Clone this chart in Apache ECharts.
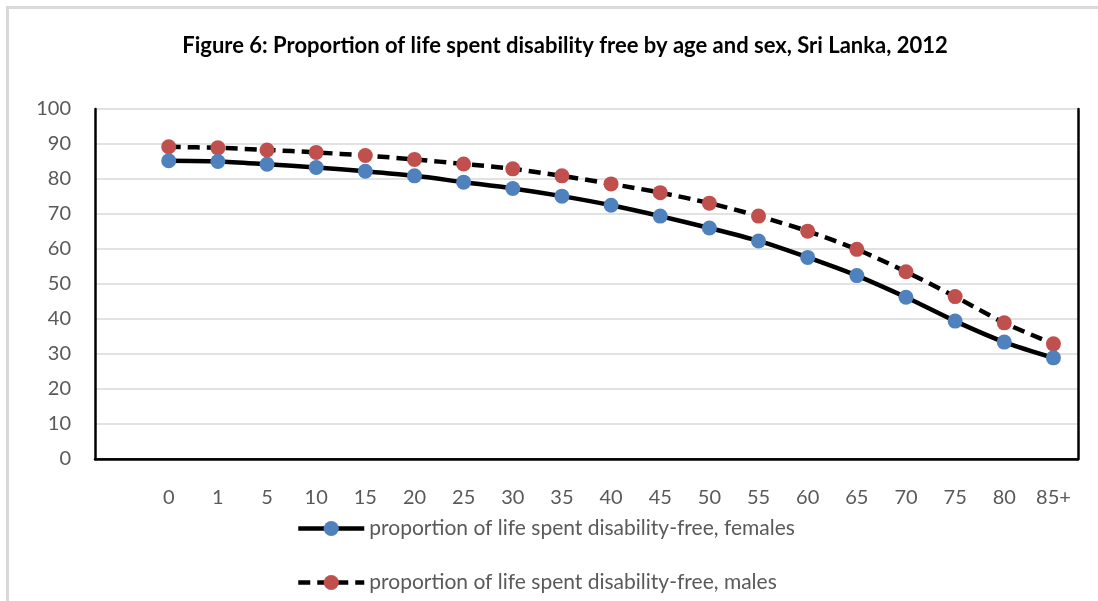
<!DOCTYPE html>
<html>
<head>
<meta charset="utf-8">
<script src="https://cdn.jsdelivr.net/npm/echarts@6/dist/echarts.min.js"></script>
<style>
  html, body { margin: 0; padding: 0; background: #fff; }
  #chart { width: 1098px; height: 601px; }
</style>
</head>
<body>
<div id="chart"></div>
<script>
// Age groups (x axis) and the share of remaining life spent free of disability (%)
const ages = ['0', '1', '5', '10', '15', '20', '25', '30', '35', '40', '45', '50', '55', '60', '65', '70', '75', '80', '85+'];
const females = [85.2, 85.0, 84.2, 83.3, 82.2, 80.9, 79.1, 77.3, 75.1, 72.5, 69.4, 66.0, 62.3, 57.6, 52.4, 46.2, 39.4, 33.4, 28.9];
const males = [89.2, 88.9, 88.3, 87.6, 86.7, 85.6, 84.3, 82.9, 80.9, 78.6, 76.1, 73.1, 69.4, 65.1, 59.9, 53.5, 46.4, 38.9, 32.9];
const yTicks = [0, 10, 20, 30, 40, 50, 60, 70, 80, 90, 100];

const titleText = 'Figure 6: Proportion of life spent disability free by age and sex, Sri Lanka, 2012';
const femaleName = 'proportion of life spent disability-free, females';
const maleName = 'proportion of life spent disability-free, males';

// The category axis keeps an empty slot before the first age group
const xCats = [''].concat(ages);
const femaleData = ['-'].concat(females);
const maleData = ['-'].concat(males);

const FONT = 'Lato, "Open Sans", sans-serif';
const LINE_W = 4.5;
const DASH = [12, 7];
const chart = echarts.init(document.getElementById('chart'), null, { renderer: 'canvas' });

chart.setOption({
  animation: false,
  backgroundColor: '#ffffff',
  title: {
    text: titleText,
    left: 560,
    top: 30,
    textAlign: 'center',
    textStyle: { fontFamily: FONT, fontWeight: 'bold', fontSize: 22, color: '#000000' }
  },
  graphic: [{
    type: 'rect',
    shape: { x: 7.5, y: 7.5, width: 1200, height: 700 },
    style: { fill: 'none', stroke: '#d9d9d9', lineWidth: 3 },
    silent: true
  }],
  legend: {
    orient: 'vertical',
    left: 291,
    top: 513,
    itemWidth: 66,
    itemHeight: 19,
    itemGap: 33,
    textStyle: { fontFamily: FONT, fontSize: 21, color: '#595959' },
    data: [
      { name: femaleName, lineStyle: { width: LINE_W } },
      { name: maleName, lineStyle: { width: LINE_W, type: DASH } }
    ]
  },
  grid: { left: 95, right: 20, top: 109, bottom: 142, containLabel: false },
  xAxis: [{
    type: 'category',
    data: xCats,
    boundaryGap: true,
    axisLine: { lineStyle: { color: '#000000', width: 1.5 } },
    axisTick: { show: false },
    axisLabel: { fontFamily: FONT, fontSize: 20, color: '#595959', margin: 29, interval: 0 }
  }, {
    type: 'category',
    data: xCats,
    position: 'top',
    axisLine: { lineStyle: { color: '#000000', width: 2.5 } },
    axisTick: { show: false },
    axisLabel: { show: false }
  }],
  yAxis: [{
    type: 'value',
    min: yTicks[0],
    max: yTicks[yTicks.length - 1],
    interval: 10,
    axisLine: { show: true, lineStyle: { color: '#000000', width: 2.5 } },
    axisTick: { show: false },
    axisLabel: { fontFamily: FONT, fontSize: 20, color: '#595959', margin: 24 },
    splitLine: { lineStyle: { color: '#d9d9d9', width: 1.5 } }
  }, {
    type: 'value',
    position: 'right',
    min: yTicks[0],
    max: yTicks[yTicks.length - 1],
    interval: 10,
    axisLine: { show: true, lineStyle: { color: '#000000', width: 2.5 } },
    axisTick: { show: false },
    axisLabel: { show: false },
    splitLine: { show: false }
  }],
  series: [{
    name: femaleName,
    type: 'line',
    data: femaleData,
    smooth: 0.3,
    symbol: 'circle',
    symbolSize: 15,
    z: 3,
    itemStyle: { color: '#4f81bd' },
    lineStyle: { color: '#000000', width: LINE_W }
  }, {
    name: maleName,
    type: 'line',
    data: maleData,
    smooth: 0.3,
    symbol: 'circle',
    symbolSize: 15,
    z: 2,
    itemStyle: { color: '#c0504d' },
    lineStyle: { color: '#000000', width: LINE_W, type: DASH }
  }]
});
</script>
</body>
</html>
